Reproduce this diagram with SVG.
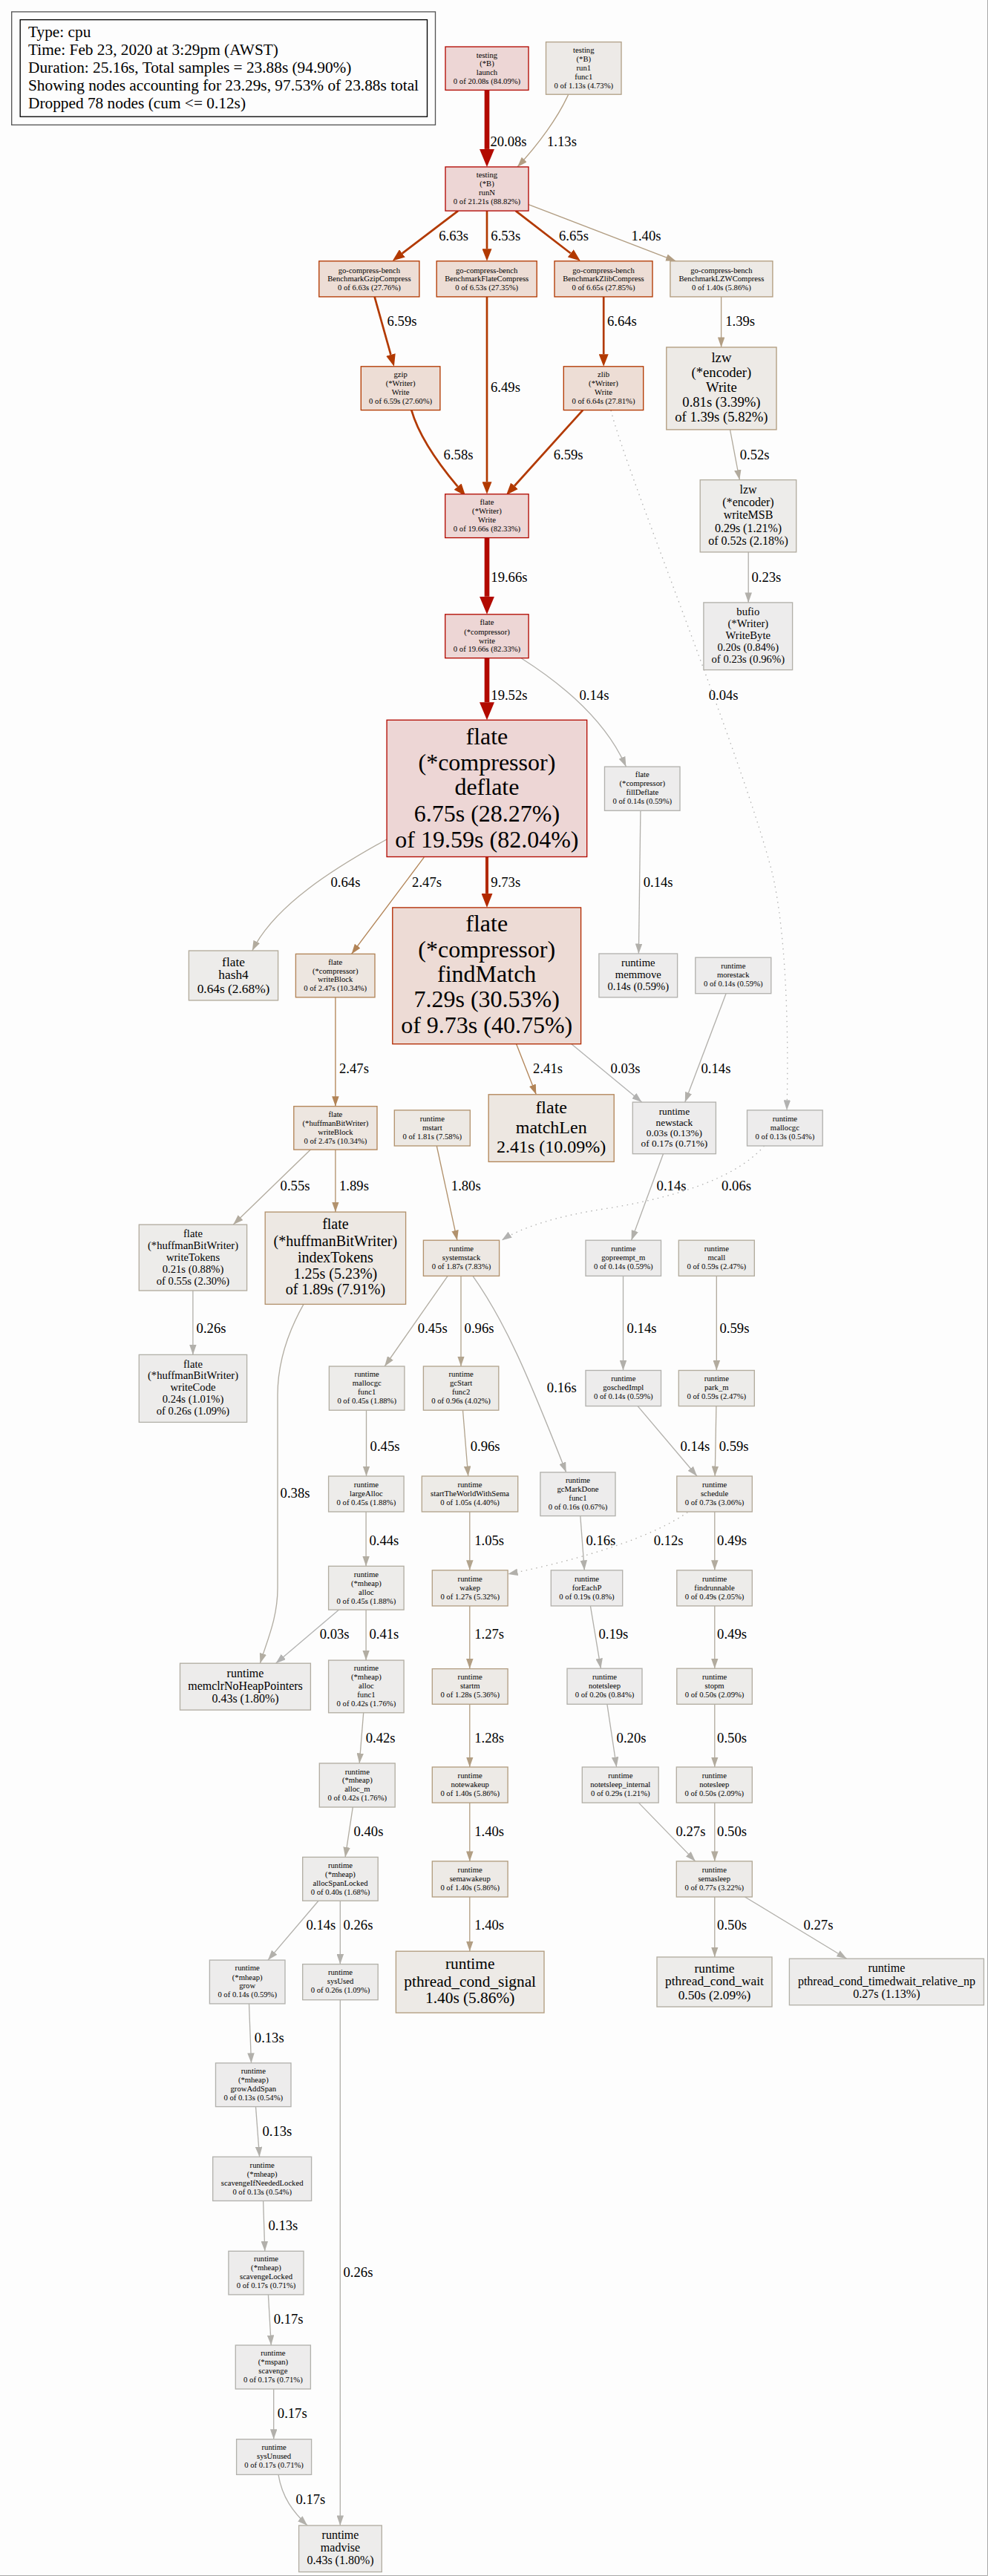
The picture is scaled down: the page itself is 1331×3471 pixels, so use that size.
<svg xmlns="http://www.w3.org/2000/svg" width="1331" height="3471" viewBox="0 0 1331 3471">
<style>
text { font-family: 'Liberation Serif', 'Times New Roman', serif; fill: #000; }
.node text { text-anchor: middle; }
.node rect { stroke-width: 1.33; }
.f8 { font-size: 10.67px; } .f10 { font-size: 13.33px; } .f11 { font-size: 14.67px; }
.f12 { font-size: 16px; } .f13 { font-size: 17.33px; } .f14 { font-size: 18.67px; }
.f15 { font-size: 20px; } .f16 { font-size: 21.33px; } .f18 { font-size: 24px; } .f24 { font-size: 32px; }
.lg { font-size: 21.33px; }
.elab { font-size: 18.67px; }
#edges path { fill: none; stroke-width: 1.33; }
#edges .r3 { stroke: #b20a00; stroke-width: 6.67; marker-end: url(#ar3); }
#edges .r2 { stroke: #b22a00; stroke-width: 4; marker-end: url(#ar2); }
#edges .r1 { stroke: #b23900; stroke-width: 2.67; marker-end: url(#ar1); }
#edges .g0 { stroke: #b2b2b1; marker-end: url(#ag0); }
#edges .g1 { stroke: #b2b0ab; marker-end: url(#ag1); }
#edges .g2 { stroke: #b2ada2; marker-end: url(#ag2); }
#edges .g3 { stroke: #b2ab9e; marker-end: url(#ag3); }
#edges .g4 { stroke: #b2a48e; marker-end: url(#ag4); }
#edges .g5 { stroke: #b29e83; marker-end: url(#ag5); }
#edges .g6 { stroke: #b2926d; marker-end: url(#ag6); }
#edges .g7 { stroke: #b28457; marker-end: url(#ag7); }
#edges .dot { stroke-dasharray: 1.5 5.5; }
</style>
<defs>
<marker id="ar3" markerUnits="userSpaceOnUse" viewBox="0 0 24 20" markerWidth="24" markerHeight="20" refX="0" refY="10" orient="auto"><path d="M0,0 L24,10 L0,20 z" fill="#b20a00"/></marker>
<marker id="ar2" markerUnits="userSpaceOnUse" viewBox="0 0 19 15" markerWidth="19" markerHeight="15" refX="0" refY="7.5" orient="auto"><path d="M0,0 L19,7.5 L0,15 z" fill="#b22a00"/></marker>
<marker id="ar1" markerUnits="userSpaceOnUse" viewBox="0 0 16.5 13" markerWidth="16.5" markerHeight="13" refX="0" refY="6.5" orient="auto"><path d="M0,0 L16.5,6.5 L0,13 z" fill="#b23900"/></marker>
<marker id="ag0" markerUnits="userSpaceOnUse" viewBox="0 0 13.5 9.5" markerWidth="13.5" markerHeight="9.5" refX="13.5" refY="4.75" orient="auto"><path d="M0,0 L13.5,4.75 L0,9.5 z" fill="#b2b2b1"/></marker>
<marker id="ag1" markerUnits="userSpaceOnUse" viewBox="0 0 13.5 9.5" markerWidth="13.5" markerHeight="9.5" refX="13.5" refY="4.75" orient="auto"><path d="M0,0 L13.5,4.75 L0,9.5 z" fill="#b2b0ab"/></marker>
<marker id="ag2" markerUnits="userSpaceOnUse" viewBox="0 0 13.5 9.5" markerWidth="13.5" markerHeight="9.5" refX="13.5" refY="4.75" orient="auto"><path d="M0,0 L13.5,4.75 L0,9.5 z" fill="#b2ada2"/></marker>
<marker id="ag3" markerUnits="userSpaceOnUse" viewBox="0 0 13.5 9.5" markerWidth="13.5" markerHeight="9.5" refX="13.5" refY="4.75" orient="auto"><path d="M0,0 L13.5,4.75 L0,9.5 z" fill="#b2ab9e"/></marker>
<marker id="ag4" markerUnits="userSpaceOnUse" viewBox="0 0 13.5 9.5" markerWidth="13.5" markerHeight="9.5" refX="13.5" refY="4.75" orient="auto"><path d="M0,0 L13.5,4.75 L0,9.5 z" fill="#b2a48e"/></marker>
<marker id="ag5" markerUnits="userSpaceOnUse" viewBox="0 0 13.5 9.5" markerWidth="13.5" markerHeight="9.5" refX="13.5" refY="4.75" orient="auto"><path d="M0,0 L13.5,4.75 L0,9.5 z" fill="#b29e83"/></marker>
<marker id="ag6" markerUnits="userSpaceOnUse" viewBox="0 0 13.5 9.5" markerWidth="13.5" markerHeight="9.5" refX="13.5" refY="4.75" orient="auto"><path d="M0,0 L13.5,4.75 L0,9.5 z" fill="#b2926d"/></marker>
<marker id="ag7" markerUnits="userSpaceOnUse" viewBox="0 0 13.5 9.5" markerWidth="13.5" markerHeight="9.5" refX="13.5" refY="4.75" orient="auto"><path d="M0,0 L13.5,4.75 L0,9.5 z" fill="#b28457"/></marker>
</defs>

<rect x="0" y="0" width="1331" height="3471" fill="#fdfdfd"/>
<path d="M1330.5,0 V3470.5 H0" fill="none" stroke="#a8a8a8" stroke-width="1"/>

<!-- profile legend -->
<g id="legend">
<rect x="15.7" y="15.9" width="570.8" height="152.4" fill="none" stroke="#555" stroke-width="1.33"/>
<rect x="27.2" y="26.6" width="548.3" height="130.6" fill="none" stroke="#000" stroke-width="1.33"/>
<text class="lg" x="38" y="49.5">Type: cpu</text>
<text class="lg" x="38" y="73.6">Time: Feb 23, 2020 at 3:29pm (AWST)</text>
<text class="lg" x="38" y="97.6">Duration: 25.16s, Total samples = 23.88s (94.90%)</text>
<text class="lg" x="38" y="121.7">Showing nodes accounting for 23.29s, 97.53% of 23.88s total</text>
<text class="lg" x="38" y="145.7">Dropped 78 nodes (cum &lt;= 0.12s)</text>
</g>

<!-- call edges -->
<g id="edges">
<path class="r3" d="M656,121.3 V200.9"/>
<path class="g5" d="M765.7,127.2 C752,158 725,195 697,224.9"/>
<path class="r1" d="M617.1,284.1 L541.9,341.4"/>
<path class="r1" d="M656,284.1 V335.3"/>
<path class="r1" d="M694.7,284.1 L768.75,341.3"/>
<path class="g5" d="M712.1,275.6 L910.5,351.8"/>
<path class="r1" d="M504.6,399.9 L526.45,477.9"/>
<path class="r1" d="M813.2,399.9 V477.3"/>
<path class="g5" d="M971.6,399.9 V467.9"/>
<path class="r1" d="M656,399.9 V649.3"/>
<path class="r1" d="M554.3,552.6 C565,590 595,630 616.6,655.7"/>
<path class="r1" d="M785.2,552.6 L693.05,654.75"/>
<path class="g0 dot" d="M823,553 C845,640 1000,1020 1040,1175 C1058,1250 1063,1380 1060,1495.9"/>
<path class="r3" d="M656,724.6 V803.8"/>
<path class="r3" d="M656,886.7 V946.2"/>
<path class="g1" d="M702.4,887 C770,930 820,980 843.4,1033.1"/>
<path class="g3" d="M983.5,578.9 L996.3,646.6"/>
<path class="g1" d="M1008.2,743.9 V811.9"/>
<path class="g3" d="M521,1131 C450,1170 370,1220 339.8,1281"/>
<path class="g7" d="M571.3,1155.2 L473.6,1285.4"/>
<path class="r2" d="M656,1154.5 V1203.9"/>
<path class="g1" d="M862.9,1092.3 L860.4,1285"/>
<path class="g7" d="M451.9,1343.8 V1490.7"/>
<path class="g7" d="M695.6,1406.7 L722.3,1474.8"/>
<path class="g0" d="M769.9,1406.7 L864.6,1485.1"/>
<path class="g1" d="M978.1,1338.7 L922.8,1485.1"/>
<path class="g3" d="M418.4,1549.1 L314.3,1650.1"/>
<path class="g6" d="M451.9,1549.1 V1633.1"/>
<path class="g6" d="M588.3,1544 L615.9,1671.2"/>
<path class="g1" d="M893.5,1554.7 L850.6,1671.2"/>
<path class="g0 dot" d="M1029.5,1544 C990,1590 900,1615 820,1628 C750,1638 700,1655 676,1671.2"/>
<path class="g1" d="M259.9,1739 V1825.4"/>
<path class="g2" d="M409,1757.4 C385,1800 374,1840 374,1880 L374,2140 C374,2180 360,2210 350.4,2241.2"/>
<path class="g2" d="M603.1,1719.3 L518.2,1841"/>
<path class="g4" d="M621,1719.3 V1841"/>
<path class="g1" d="M637,1719.3 C680,1780 710,1850 762.7,1983.8"/>
<path class="g1" d="M839.5,1719.3 V1846.5"/>
<path class="g3" d="M965.3,1719.3 V1846.5"/>
<path class="g2" d="M493.5,1900.2 V1989"/>
<path class="g4" d="M623.5,1900.2 L630.7,1989"/>
<path class="g1" d="M859.1,1894.6 L939,1989"/>
<path class="g3" d="M964.9,1894.6 L963.2,1989"/>
<path class="g2" d="M493.1,2037 V2110.3"/>
<path class="g4" d="M632.8,2037 V2115.8"/>
<path class="g1" d="M781.8,2042.6 L787.3,2115.8"/>
<path class="g1 dot" d="M926.2,2037.8 C880,2070 790,2100 684.1,2121"/>
<path class="g3" d="M962.8,2037 V2115.8"/>
<path class="g0" d="M456.6,2169.1 L371.6,2241.2"/>
<path class="g2" d="M493.1,2169.1 V2237.1"/>
<path class="g5" d="M632.8,2163.9 V2248.6"/>
<path class="g1" d="M795.4,2163.9 L809.4,2248.2"/>
<path class="g3" d="M962.8,2163.9 V2248.2"/>
<path class="g2" d="M489.7,2307.8 L484.2,2375.9"/>
<path class="g5" d="M632.8,2296.3 V2381"/>
<path class="g1" d="M817.9,2296.3 L830.6,2381"/>
<path class="g3" d="M962.8,2296.3 V2381"/>
<path class="g2" d="M475.3,2435 L465.1,2502.4"/>
<path class="g5" d="M632.8,2429.1 V2507.9"/>
<path class="g1" d="M860.4,2429.1 L936.8,2507.9"/>
<path class="g3" d="M962.8,2429.1 V2507.9"/>
<path class="g1" d="M429,2561.2 L361,2641.1"/>
<path class="g1" d="M458.3,2561.2 V2646.6"/>
<path class="g5" d="M632.8,2556 V2629.2"/>
<path class="g3" d="M962.8,2556 V2637"/>
<path class="g1" d="M1003.5,2556 L1140.7,2639.2"/>
<path class="g1" d="M335.5,2699.9 L338.5,2779.8"/>
<path class="g1" d="M344.5,2838.6 L349.6,2906.2"/>
<path class="g1" d="M458.3,2694.7 V3402.9"/>
<path class="g1" d="M354.6,2965.5 L356.8,3033.3"/>
<path class="g1" d="M361.4,3091.9 L365.3,3160"/>
<path class="g1" d="M368.7,3219 V3286.7"/>
<path class="g1" d="M375,3334.4 C380,3365 395,3385 414.1,3402.9"/>

<text class="elab" x="660.4" y="196.8">20.08s</text>
<text class="elab" x="737" y="196.8">1.13s</text>
<text class="elab" x="591.2" y="323.7">6.63s</text>
<text class="elab" x="661.3" y="323.7">6.53s</text>
<text class="elab" x="753" y="323.7">6.65s</text>
<text class="elab" x="850.6" y="323.7">1.40s</text>
<text class="elab" x="521.6" y="439.1">6.59s</text>
<text class="elab" x="817.9" y="439.1">6.64s</text>
<text class="elab" x="977.2" y="439.1">1.39s</text>
<text class="elab" x="661" y="527.9">6.49s</text>
<text class="elab" x="597.6" y="618.9">6.58s</text>
<text class="elab" x="745.7" y="618.9">6.59s</text>
<text class="elab" x="996.7" y="618.9">0.52s</text>
<text class="elab" x="661.3" y="783.5">19.66s</text>
<text class="elab" x="1012.4" y="783.5">0.23s</text>
<text class="elab" x="661.3" y="942.5">19.52s</text>
<text class="elab" x="780.5" y="942.5">0.14s</text>
<text class="elab" x="954.7" y="942.5">0.04s</text>
<text class="elab" x="445.5" y="1194.8">0.64s</text>
<text class="elab" x="555.1" y="1194.8">2.47s</text>
<text class="elab" x="661.3" y="1194.8">9.73s</text>
<text class="elab" x="866.7" y="1194.8">0.14s</text>
<text class="elab" x="457" y="1446.3">2.47s</text>
<text class="elab" x="718.1" y="1446.3">2.41s</text>
<text class="elab" x="822.6" y="1446.3">0.03s</text>
<text class="elab" x="944.5" y="1446.3">0.14s</text>
<text class="elab" x="377.6" y="1604.3">0.55s</text>
<text class="elab" x="457" y="1604.3">1.89s</text>
<text class="elab" x="607.8" y="1604.3">1.80s</text>
<text class="elab" x="884.6" y="1604.3">0.14s</text>
<text class="elab" x="972.1" y="1604.3">0.06s</text>
<text class="elab" x="264.6" y="1796.2">0.26s</text>
<text class="elab" x="562.8" y="1796.2">0.45s</text>
<text class="elab" x="625.6" y="1796.2">0.96s</text>
<text class="elab" x="844.6" y="1796.2">0.14s</text>
<text class="elab" x="969.5" y="1796.2">0.59s</text>
<text class="elab" x="736.8" y="1875.8">0.16s</text>
<text class="elab" x="498.6" y="1955.3">0.45s</text>
<text class="elab" x="633.7" y="1955.3">0.96s</text>
<text class="elab" x="916.4" y="1955.3">0.14s</text>
<text class="elab" x="968.7" y="1955.3">0.59s</text>
<text class="elab" x="377.6" y="2018.2">0.38s</text>
<text class="elab" x="497.4" y="2082.2">0.44s</text>
<text class="elab" x="639.2" y="2082.2">1.05s</text>
<text class="elab" x="789.4" y="2082.2">0.16s</text>
<text class="elab" x="880.7" y="2082.2">0.12s</text>
<text class="elab" x="966.1" y="2082.2">0.49s</text>
<text class="elab" x="430.7" y="2208.3">0.03s</text>
<text class="elab" x="497.4" y="2208.3">0.41s</text>
<text class="elab" x="639.2" y="2208.3">1.27s</text>
<text class="elab" x="806.4" y="2208.3">0.19s</text>
<text class="elab" x="966.1" y="2208.3">0.49s</text>
<text class="elab" x="492.7" y="2347.8">0.42s</text>
<text class="elab" x="639.2" y="2347.8">1.28s</text>
<text class="elab" x="830.6" y="2347.8">0.20s</text>
<text class="elab" x="966.1" y="2347.8">0.50s</text>
<text class="elab" x="476.5" y="2474.3">0.40s</text>
<text class="elab" x="639.2" y="2474.3">1.40s</text>
<text class="elab" x="910.5" y="2474.3">0.27s</text>
<text class="elab" x="966.1" y="2474.3">0.50s</text>
<text class="elab" x="412.4" y="2600">0.14s</text>
<text class="elab" x="462.5" y="2600">0.26s</text>
<text class="elab" x="639.2" y="2600">1.40s</text>
<text class="elab" x="966.1" y="2600">0.50s</text>
<text class="elab" x="1082.5" y="2600">0.27s</text>
<text class="elab" x="342.8" y="2751.7">0.13s</text>
<text class="elab" x="353.4" y="2878.2">0.13s</text>
<text class="elab" x="361.4" y="3004.6">0.13s</text>
<text class="elab" x="462.5" y="3068.3">0.26s</text>
<text class="elab" x="368.7" y="3131.3">0.17s</text>
<text class="elab" x="373.8" y="3257.7">0.17s</text>
<text class="elab" x="398.4" y="3374.3">0.17s</text>
</g>

<!-- function nodes -->
<g id="n_launch" class="node"><rect x="600" y="63" width="112" height="58.4" fill="#edd6d5" stroke="#b20900"/>
<text class="f8" x="656" y="77.5">testing</text><text class="f8" x="656" y="89.3">(*B)</text><text class="f8" x="656" y="101.2">launch</text><text class="f8" x="656" y="113">0 of 20.08s (84.09%)</text></g>
<g id="n_run1" class="node"><rect x="735.5" y="56.6" width="101.5" height="70.6" fill="#edeae7" stroke="#b2a188"/>
<text class="f8" x="786.3" y="71.2">testing</text><text class="f8" x="786.3" y="83">(*B)</text><text class="f8" x="786.3" y="95.2">run1</text><text class="f8" x="786.3" y="107.1">func1</text><text class="f8" x="786.3" y="118.9">0 of 1.13s (4.73%)</text></g>
<g id="n_runN" class="node"><rect x="600" y="224.9" width="112" height="59.2" fill="#edd6d5" stroke="#b20600"/>
<text class="f8" x="656" y="239.1">testing</text><text class="f8" x="656" y="251">(*B)</text><text class="f8" x="656" y="262.8">runN</text><text class="f8" x="656" y="274.6">0 of 21.21s (88.82%)</text></g>
<g id="n_gzipb" class="node"><rect x="429.8" y="351.8" width="135.1" height="48.1" fill="#edddd5" stroke="#b23800"/>
<text class="f8" x="497.4" y="367.5">go-compress-bench</text><text class="f8" x="497.4" y="379.3">BenchmarkGzipCompress</text><text class="f8" x="497.4" y="391.2">0 of 6.63s (27.76%)</text></g>
<g id="n_flateb" class="node"><rect x="588.2" y="351.8" width="135" height="48.1" fill="#edddd5" stroke="#b23900"/>
<text class="f8" x="655.7" y="367.5">go-compress-bench</text><text class="f8" x="655.7" y="379.3">BenchmarkFlateCompress</text><text class="f8" x="655.7" y="391.2">0 of 6.53s (27.35%)</text></g>
<g id="n_zlibb" class="node"><rect x="747" y="351.8" width="132" height="48.1" fill="#edddd5" stroke="#b23800"/>
<text class="f8" x="813" y="367.5">go-compress-bench</text><text class="f8" x="813" y="379.3">BenchmarkZlibCompress</text><text class="f8" x="813" y="391.2">0 of 6.65s (27.85%)</text></g>
<g id="n_lzwb" class="node"><rect x="902.9" y="351.8" width="138" height="48.1" fill="#edeae6" stroke="#b29c7e"/>
<text class="f8" x="971.9" y="367.5">go-compress-bench</text><text class="f8" x="971.9" y="379.3">BenchmarkLZWCompress</text><text class="f8" x="971.9" y="391.2">0 of 1.40s (5.86%)</text></g>
<g id="n_gzipw" class="node"><rect x="486.3" y="493.8" width="106.6" height="58.8" fill="#edddd5" stroke="#b23900"/>
<text class="f8" x="539.6" y="508.4">gzip</text><text class="f8" x="539.6" y="520.3">(*Writer)</text><text class="f8" x="539.6" y="532.1">Write</text><text class="f8" x="539.6" y="543.9">0 of 6.59s (27.60%)</text></g>
<g id="n_zlibw" class="node"><rect x="759.3" y="493.8" width="107.4" height="58.8" fill="#edddd5" stroke="#b23800"/>
<text class="f8" x="813" y="508.4">zlib</text><text class="f8" x="813" y="520.3">(*Writer)</text><text class="f8" x="813" y="532.1">Write</text><text class="f8" x="813" y="543.9">0 of 6.64s (27.81%)</text></g>
<g id="n_lzww" class="node"><rect x="897.8" y="467.9" width="148.2" height="111" fill="#edeae6" stroke="#b29c7e"/>
<text class="f14" x="971.9" y="488">lzw</text><text class="f14" x="971.9" y="508.3">(*encoder)</text><text class="f14" x="971.9" y="528.3">Write</text><text class="f14" x="971.9" y="548.3">0.81s (3.39%)</text><text class="f14" x="971.9" y="568.3">of 1.39s (5.82%)</text></g>
<g id="n_flatew" class="node"><rect x="599.7" y="665.8" width="112.4" height="58.8" fill="#edd6d5" stroke="#b20a00"/>
<text class="f8" x="656" y="680">flate</text><text class="f8" x="656" y="692.3">(*Writer)</text><text class="f8" x="656" y="704.1">Write</text><text class="f8" x="656" y="715.9">0 of 19.66s (82.33%)</text></g>
<g id="n_cwrite" class="node"><rect x="599.7" y="827.8" width="112.4" height="58.9" fill="#edd6d5" stroke="#b20a00"/>
<text class="f8" x="656" y="842.4">flate</text><text class="f8" x="656" y="854.6">(*compressor)</text><text class="f8" x="656" y="866.5">write</text><text class="f8" x="656" y="878.3">0 of 19.66s (82.33%)</text></g>
<g id="n_writeMSB" class="node"><rect x="943.2" y="646.6" width="129.5" height="97.3" fill="#edecea" stroke="#b2ac9f"/>
<text class="f12" x="1008" y="664.8">lzw</text><text class="f12" x="1008" y="682.2">(*encoder)</text><text class="f12" x="1008" y="699.2">writeMSB</text><text class="f12" x="1008" y="716.6">0.29s (1.21%)</text><text class="f12" x="1008" y="734">of 0.52s (2.18%)</text></g>
<g id="n_writeByte" class="node"><rect x="947.9" y="811.9" width="119.7" height="90.7" fill="#edecec" stroke="#b2b0a9"/>
<text class="f11" x="1007.8" y="829.3">bufio</text><text class="f11" x="1007.8" y="845.2">(*Writer)</text><text class="f11" x="1007.8" y="861.1">WriteByte</text><text class="f11" x="1007.8" y="877">0.20s (0.84%)</text><text class="f11" x="1007.8" y="892.9">of 0.23s (0.96%)</text></g>
<g id="n_deflate" class="node"><rect x="521.1" y="970.2" width="269.6" height="184.3" fill="#edd6d5" stroke="#b20a00"/>
<text class="f24" x="655.9" y="1002.9">flate</text><text class="f24" x="655.9" y="1038.1">(*compressor)</text><text class="f24" x="655.9" y="1071.4">deflate</text><text class="f24" x="655.9" y="1106.5">6.75s (28.27%)</text><text class="f24" x="655.9" y="1141.7">of 19.59s (82.04%)</text></g>
<g id="n_fillDeflate" class="node"><rect x="814.5" y="1033.1" width="101.5" height="59.2" fill="#edecec" stroke="#b2b1ad"/>
<text class="f8" x="865.3" y="1047">flate</text><text class="f8" x="865.3" y="1059.2">(*compressor)</text><text class="f8" x="865.3" y="1071">fillDeflate</text><text class="f8" x="865.3" y="1082.9">0 of 0.14s (0.59%)</text></g>
<g id="n_hash4" class="node"><rect x="254.4" y="1281" width="120.2" height="66.9" fill="#edecea" stroke="#b2aa9a"/>
<text class="f13" x="314.5" y="1301.5">flate</text><text class="f13" x="314.5" y="1319.2">hash4</text><text class="f13" x="314.5" y="1338.1">0.64s (2.68%)</text></g>
<g id="n_cwriteBlock" class="node"><rect x="398.4" y="1285.4" width="106.6" height="58.4" fill="#ede6e0" stroke="#b28356"/>
<text class="f8" x="451.7" y="1299.6">flate</text><text class="f8" x="451.7" y="1311.5">(*compressor)</text><text class="f8" x="451.7" y="1323.3">writeBlock</text><text class="f8" x="451.7" y="1335.1">0 of 2.47s (10.34%)</text></g>
<g id="n_findMatch" class="node"><rect x="528.8" y="1222.9" width="253.8" height="183.8" fill="#eddbd5" stroke="#b22a00"/>
<text class="f24" x="655.7" y="1254.8">flate</text><text class="f24" x="655.7" y="1289.6">(*compressor)</text><text class="f24" x="655.7" y="1323.3">findMatch</text><text class="f24" x="655.7" y="1357.3">7.29s (30.53%)</text><text class="f24" x="655.7" y="1391.7">of 9.73s (40.75%)</text></g>
<g id="n_memmove" class="node"><rect x="806.9" y="1285" width="105.7" height="58.8" fill="#edecec" stroke="#b2b1ad"/>
<text class="f11" x="859.8" y="1302.4">runtime</text><text class="f11" x="859.8" y="1318.3">memmove</text><text class="f11" x="859.8" y="1334.2">0.14s (0.59%)</text></g>
<g id="n_morestack" class="node"><rect x="936.8" y="1290.2" width="102" height="48.5" fill="#edecec" stroke="#b2b1ad"/>
<text class="f8" x="987.8" y="1305.2">runtime</text><text class="f8" x="987.8" y="1317">morestack</text><text class="f8" x="987.8" y="1328.8">0 of 0.14s (0.59%)</text></g>
<g id="n_hwriteBlock" class="node"><rect x="395.8" y="1490.7" width="112.2" height="58.4" fill="#ede6e0" stroke="#b28356"/>
<text class="f8" x="451.9" y="1505.3">flate</text><text class="f8" x="451.9" y="1517.1">(*huffmanBitWriter)</text><text class="f8" x="451.9" y="1529.3">writeBlock</text><text class="f8" x="451.9" y="1541.2">0 of 2.47s (10.34%)</text></g>
<g id="n_mstart" class="node"><rect x="531.3" y="1495.9" width="102" height="48.1" fill="#ede9e4" stroke="#b2936e"/>
<text class="f8" x="582.3" y="1511.2">runtime</text><text class="f8" x="582.3" y="1523">mstart</text><text class="f8" x="582.3" y="1534.9">0 of 1.81s (7.58%)</text></g>
<g id="n_matchLen" class="node"><rect x="658.2" y="1474.8" width="169" height="90.6" fill="#ede7e1" stroke="#b28558"/>
<text class="f18" x="742.7" y="1499.8">flate</text><text class="f18" x="742.7" y="1526.8">matchLen</text><text class="f18" x="742.7" y="1553.4">2.41s (10.09%)</text></g>
<g id="n_newstack" class="node"><rect x="852.3" y="1485.1" width="112.1" height="69.6" fill="#edecec" stroke="#b2b1ac"/>
<text class="f10" x="908.4" y="1501.7">runtime</text><text class="f10" x="908.4" y="1516.5">newstack</text><text class="f10" x="908.4" y="1531.3">0.03s (0.13%)</text><text class="f10" x="908.4" y="1545.4">of 0.17s (0.71%)</text></g>
<g id="n_mallocgc" class="node"><rect x="1006.5" y="1495.9" width="101.7" height="48.1" fill="#edecec" stroke="#b2b1ad"/>
<text class="f8" x="1057.4" y="1511.2">runtime</text><text class="f8" x="1057.4" y="1523">mallocgc</text><text class="f8" x="1057.4" y="1534.9">0 of 0.13s (0.54%)</text></g>
<g id="n_writeTokens" class="node"><rect x="187.3" y="1650.1" width="145.3" height="88.9" fill="#edecea" stroke="#b2ab9e"/>
<text class="f11" x="260" y="1667.1">flate</text><text class="f11" x="260" y="1683">(*huffmanBitWriter)</text><text class="f11" x="260" y="1699.3">writeTokens</text><text class="f11" x="260" y="1715.2">0.21s (0.88%)</text><text class="f11" x="260" y="1730.8">of 0.55s (2.30%)</text></g>
<g id="n_indexTokens" class="node"><rect x="357.2" y="1633.1" width="189.4" height="124.3" fill="#ede8e3" stroke="#b2916b"/>
<text class="f15" x="451.9" y="1655.6">flate</text><text class="f15" x="451.9" y="1678.6">(*huffmanBitWriter)</text><text class="f15" x="451.9" y="1700.7">indexTokens</text><text class="f15" x="451.9" y="1722.9">1.25s (5.23%)</text><text class="f15" x="451.9" y="1744.2">of 1.89s (7.91%)</text></g>
<g id="n_systemstack" class="node"><rect x="570.4" y="1671.2" width="102.2" height="48.1" fill="#ede8e3" stroke="#b2916c"/>
<text class="f8" x="621.5" y="1686.2">runtime</text><text class="f8" x="621.5" y="1698.4">systemstack</text><text class="f8" x="621.5" y="1710.2">0 of 1.87s (7.83%)</text></g>
<g id="n_gopreempt" class="node"><rect x="789" y="1671.2" width="101.5" height="48.1" fill="#edecec" stroke="#b2b1ad"/>
<text class="f8" x="839.8" y="1686.2">runtime</text><text class="f8" x="839.8" y="1698.4">gopreempt_m</text><text class="f8" x="839.8" y="1710.2">0 of 0.14s (0.59%)</text></g>
<g id="n_mcall" class="node"><rect x="914.3" y="1671.2" width="102" height="48.1" fill="#edecea" stroke="#b2ab9c"/>
<text class="f8" x="965.3" y="1686.2">runtime</text><text class="f8" x="965.3" y="1698.4">mcall</text><text class="f8" x="965.3" y="1710.2">0 of 0.59s (2.47%)</text></g>
<g id="n_writeCode" class="node"><rect x="187.3" y="1825.4" width="145.3" height="91" fill="#edeceb" stroke="#b2b0a8"/>
<text class="f11" x="260" y="1842.5">flate</text><text class="f11" x="260" y="1858.4">(*huffmanBitWriter)</text><text class="f11" x="260" y="1874.3">writeCode</text><text class="f11" x="260" y="1890.2">0.24s (1.01%)</text><text class="f11" x="260" y="1906.1">of 0.26s (1.09%)</text></g>
<g id="n_mallocgcFunc1" class="node"><rect x="443.4" y="1841" width="101.5" height="59.2" fill="#edecea" stroke="#b2ada1"/>
<text class="f8" x="494.2" y="1855.2">runtime</text><text class="f8" x="494.2" y="1867">mallocgc</text><text class="f8" x="494.2" y="1879.3">func1</text><text class="f8" x="494.2" y="1890.7">0 of 0.45s (1.88%)</text></g>
<g id="n_gcStart" class="node"><rect x="570.4" y="1841" width="101.4" height="59.2" fill="#edebe8" stroke="#b2a48e"/>
<text class="f8" x="621.1" y="1855.2">runtime</text><text class="f8" x="621.1" y="1867">gcStart</text><text class="f8" x="621.1" y="1879.3">func2</text><text class="f8" x="621.1" y="1890.7">0 of 0.96s (4.02%)</text></g>
<g id="n_goschedImpl" class="node"><rect x="789" y="1846.5" width="101.5" height="48.1" fill="#edecec" stroke="#b2b1ad"/>
<text class="f8" x="839.8" y="1861.1">runtime</text><text class="f8" x="839.8" y="1873">goschedImpl</text><text class="f8" x="839.8" y="1884.8">0 of 0.14s (0.59%)</text></g>
<g id="n_park_m" class="node"><rect x="914.3" y="1846.5" width="102" height="48.1" fill="#edecea" stroke="#b2ab9c"/>
<text class="f8" x="965.3" y="1861.1">runtime</text><text class="f8" x="965.3" y="1873">park_m</text><text class="f8" x="965.3" y="1884.8">0 of 0.59s (2.47%)</text></g>
<g id="n_largeAlloc" class="node"><rect x="442.6" y="1989" width="101.5" height="48" fill="#edecea" stroke="#b2ada1"/>
<text class="f8" x="493.4" y="2004.3">runtime</text><text class="f8" x="493.4" y="2016.1">largeAlloc</text><text class="f8" x="493.4" y="2028">0 of 0.45s (1.88%)</text></g>
<g id="n_startTheWorld" class="node"><rect x="568.3" y="1989" width="129.4" height="48" fill="#edebe7" stroke="#b2a38b"/>
<text class="f8" x="633" y="2004.3">runtime</text><text class="f8" x="633" y="2016.1">startTheWorldWithSema</text><text class="f8" x="633" y="2028">0 of 1.05s (4.40%)</text></g>
<g id="n_gcMarkDone" class="node"><rect x="727.9" y="1983.8" width="101.1" height="58.8" fill="#edecec" stroke="#b2b1ac"/>
<text class="f8" x="778.5" y="1998">runtime</text><text class="f8" x="778.5" y="2009.8">gcMarkDone</text><text class="f8" x="778.5" y="2022">func1</text><text class="f8" x="778.5" y="2033.9">0 of 0.16s (0.67%)</text></g>
<g id="n_schedule" class="node"><rect x="911.8" y="1989" width="101.5" height="48" fill="#edebe9" stroke="#b2a897"/>
<text class="f8" x="962.6" y="2004.3">runtime</text><text class="f8" x="962.6" y="2016.1">schedule</text><text class="f8" x="962.6" y="2028">0 of 0.73s (3.06%)</text></g>
<g id="n_mheapAlloc" class="node"><rect x="442.6" y="2110.3" width="101.5" height="58.8" fill="#edecea" stroke="#b2ada1"/>
<text class="f8" x="493.4" y="2125.2">runtime</text><text class="f8" x="493.4" y="2137.1">(*mheap)</text><text class="f8" x="493.4" y="2149.3">alloc</text><text class="f8" x="493.4" y="2161.1">0 of 0.45s (1.88%)</text></g>
<g id="n_wakep" class="node"><rect x="582.3" y="2115.8" width="101.8" height="48.1" fill="#edeae6" stroke="#b29e83"/>
<text class="f8" x="633.2" y="2131.2">runtime</text><text class="f8" x="633.2" y="2143">wakep</text><text class="f8" x="633.2" y="2154.8">0 of 1.27s (5.32%)</text></g>
<g id="n_forEachP" class="node"><rect x="742.3" y="2115.8" width="96.4" height="48.1" fill="#edecec" stroke="#b2b0ab"/>
<text class="f8" x="790.5" y="2131.2">runtime</text><text class="f8" x="790.5" y="2143">forEachP</text><text class="f8" x="790.5" y="2154.8">0 of 0.19s (0.8%)</text></g>
<g id="n_findrunnable" class="node"><rect x="911.8" y="2115.8" width="101.5" height="48.1" fill="#edecea" stroke="#b2aca0"/>
<text class="f8" x="962.6" y="2131.2">runtime</text><text class="f8" x="962.6" y="2143">findrunnable</text><text class="f8" x="962.6" y="2154.8">0 of 0.49s (2.05%)</text></g>
<g id="n_memclr" class="node"><rect x="242.5" y="2241.2" width="175.9" height="62.9" fill="#edeceb" stroke="#b2ada2"/>
<text class="f12" x="330.5" y="2259.5">runtime</text><text class="f12" x="330.5" y="2277.2">memclrNoHeapPointers</text><text class="f12" x="330.5" y="2294.2">0.43s (1.80%)</text></g>
<g id="n_mheapAllocFunc1" class="node"><rect x="442.6" y="2237.1" width="101.5" height="70.7" fill="#edeceb" stroke="#b2ada2"/>
<text class="f8" x="493.4" y="2251.4">runtime</text><text class="f8" x="493.4" y="2263.2">(*mheap)</text><text class="f8" x="493.4" y="2275">alloc</text><text class="f8" x="493.4" y="2286.9">func1</text><text class="f8" x="493.4" y="2298.7">0 of 0.42s (1.76%)</text></g>
<g id="n_startm" class="node"><rect x="582.3" y="2248.6" width="101.8" height="47.7" fill="#edeae6" stroke="#b29e83"/>
<text class="f8" x="633.2" y="2263.2">runtime</text><text class="f8" x="633.2" y="2275">startm</text><text class="f8" x="633.2" y="2286.9">0 of 1.28s (5.36%)</text></g>
<g id="n_notetsleep" class="node"><rect x="764" y="2248.2" width="101" height="48.1" fill="#edecec" stroke="#b2b0aa"/>
<text class="f8" x="814.5" y="2263.2">runtime</text><text class="f8" x="814.5" y="2275">notetsleep</text><text class="f8" x="814.5" y="2286.9">0 of 0.20s (0.84%)</text></g>
<g id="n_stopm" class="node"><rect x="911.8" y="2248.2" width="101.5" height="48.1" fill="#edecea" stroke="#b2ac9f"/>
<text class="f8" x="962.6" y="2263.2">runtime</text><text class="f8" x="962.6" y="2275">stopm</text><text class="f8" x="962.6" y="2286.9">0 of 0.50s (2.09%)</text></g>
<g id="n_alloc_m" class="node"><rect x="430.3" y="2375.9" width="101.9" height="59.1" fill="#edeceb" stroke="#b2ada2"/>
<text class="f8" x="481.3" y="2390.5">runtime</text><text class="f8" x="481.3" y="2402.3">(*mheap)</text><text class="f8" x="481.3" y="2414.1">alloc_m</text><text class="f8" x="481.3" y="2426">0 of 0.42s (1.76%)</text></g>
<g id="n_notewakeup" class="node"><rect x="582.3" y="2381" width="101.8" height="48.1" fill="#edeae6" stroke="#b29c7e"/>
<text class="f8" x="633.2" y="2396.4">runtime</text><text class="f8" x="633.2" y="2408.2">notewakeup</text><text class="f8" x="633.2" y="2420">0 of 1.40s (5.86%)</text></g>
<g id="n_notetsleepInternal" class="node"><rect x="784.3" y="2381" width="102.9" height="48.1" fill="#edeceb" stroke="#b2afa7"/>
<text class="f8" x="835.8" y="2396.4">runtime</text><text class="f8" x="835.8" y="2408.2">notetsleep_internal</text><text class="f8" x="835.8" y="2420">0 of 0.29s (1.21%)</text></g>
<g id="n_notesleep" class="node"><rect x="911.3" y="2381" width="102" height="48.1" fill="#edecea" stroke="#b2ac9f"/>
<text class="f8" x="962.3" y="2396.4">runtime</text><text class="f8" x="962.3" y="2408.2">notesleep</text><text class="f8" x="962.3" y="2420">0 of 0.50s (2.09%)</text></g>
<g id="n_allocSpanLocked" class="node"><rect x="407.7" y="2502.4" width="101.5" height="58.8" fill="#edeceb" stroke="#b2ada3"/>
<text class="f8" x="458.5" y="2517.3">runtime</text><text class="f8" x="458.5" y="2529.2">(*mheap)</text><text class="f8" x="458.5" y="2541">allocSpanLocked</text><text class="f8" x="458.5" y="2552.8">0 of 0.40s (1.68%)</text></g>
<g id="n_semawakeup" class="node"><rect x="582.3" y="2507.9" width="101.8" height="48.1" fill="#edeae6" stroke="#b29c7e"/>
<text class="f8" x="633.2" y="2523.2">runtime</text><text class="f8" x="633.2" y="2535.1">semawakeup</text><text class="f8" x="633.2" y="2546.9">0 of 1.40s (5.86%)</text></g>
<g id="n_semasleep" class="node"><rect x="911.3" y="2507.9" width="102" height="48.1" fill="#edebe9" stroke="#b2a895"/>
<text class="f8" x="962.3" y="2523.2">runtime</text><text class="f8" x="962.3" y="2535.1">semasleep</text><text class="f8" x="962.3" y="2546.9">0 of 0.77s (3.22%)</text></g>
<g id="n_grow" class="node"><rect x="282.4" y="2641.1" width="101.6" height="58.8" fill="#edecec" stroke="#b2b1ad"/>
<text class="f8" x="333.2" y="2655.3">runtime</text><text class="f8" x="333.2" y="2667.5">(*mheap)</text><text class="f8" x="333.2" y="2679.3">grow</text><text class="f8" x="333.2" y="2690.8">0 of 0.14s (0.59%)</text></g>
<g id="n_sysUsed" class="node"><rect x="407.7" y="2646.6" width="101.5" height="48.1" fill="#edeceb" stroke="#b2b0a8"/>
<text class="f8" x="458.5" y="2661.2">runtime</text><text class="f8" x="458.5" y="2673.1">sysUsed</text><text class="f8" x="458.5" y="2684.9">0 of 0.26s (1.09%)</text></g>
<g id="n_condSignal" class="node"><rect x="533.4" y="2629.2" width="199.6" height="82.9" fill="#edeae6" stroke="#b29c7e"/>
<text class="f16" x="633.2" y="2652.5">runtime</text><text class="f16" x="633.2" y="2676.6">pthread_cond_signal</text><text class="f16" x="633.2" y="2698.7">1.40s (5.86%)</text></g>
<g id="n_condWait" class="node"><rect x="885" y="2637" width="155" height="67" fill="#edecea" stroke="#b2ac9f"/>
<text class="f13" x="962.5" y="2657.5">runtime</text><text class="f13" x="962.5" y="2675.3">pthread_cond_wait</text><text class="f13" x="962.5" y="2693.7">0.50s (2.09%)</text></g>
<g id="n_condTimedwait" class="node"><rect x="1063.4" y="2639.2" width="262" height="62.5" fill="#edeceb" stroke="#b2b0a8"/>
<text class="f12" x="1194.4" y="2657.1">runtime</text><text class="f12" x="1194.4" y="2674.9">pthread_cond_timedwait_relative_np</text><text class="f12" x="1194.4" y="2692.3">0.27s (1.13%)</text></g>
<g id="n_growAddSpan" class="node"><rect x="290.5" y="2779.8" width="101.5" height="58.8" fill="#edecec" stroke="#b2b1ad"/>
<text class="f8" x="341.3" y="2794.4">runtime</text><text class="f8" x="341.3" y="2806.2">(*mheap)</text><text class="f8" x="341.3" y="2818.1">growAddSpan</text><text class="f8" x="341.3" y="2829.9">0 of 0.13s (0.54%)</text></g>
<g id="n_scavengeIfNeeded" class="node"><rect x="286.7" y="2906.2" width="132.9" height="59.3" fill="#edecec" stroke="#b2b1ad"/>
<text class="f8" x="353.2" y="2921.3">runtime</text><text class="f8" x="353.2" y="2933.4">(*mheap)</text><text class="f8" x="353.2" y="2945">scavengeIfNeededLocked</text><text class="f8" x="353.2" y="2957">0 of 0.13s (0.54%)</text></g>
<g id="n_scavengeLocked" class="node"><rect x="307.9" y="3033.3" width="101.1" height="58.6" fill="#edecec" stroke="#b2b1ac"/>
<text class="f8" x="358.5" y="3047.3">runtime</text><text class="f8" x="358.5" y="3059.4">(*mheap)</text><text class="f8" x="358.5" y="3071">scavengeLocked</text><text class="f8" x="358.5" y="3082.7">0 of 0.17s (0.71%)</text></g>
<g id="n_mspanScavenge" class="node"><rect x="317.3" y="3160" width="101.1" height="59" fill="#edecec" stroke="#b2b1ac"/>
<text class="f8" x="367.9" y="3174.1">runtime</text><text class="f8" x="367.9" y="3186.1">(*mspan)</text><text class="f8" x="367.9" y="3198.1">scavenge</text><text class="f8" x="367.9" y="3209.8">0 of 0.17s (0.71%)</text></g>
<g id="n_sysUnused" class="node"><rect x="318.6" y="3286.7" width="101" height="47.7" fill="#edecec" stroke="#b2b1ac"/>
<text class="f8" x="369.1" y="3301.2">runtime</text><text class="f8" x="369.1" y="3312.8">sysUnused</text><text class="f8" x="369.1" y="3324.8">0 of 0.17s (0.71%)</text></g>
<g id="n_madvise" class="node"><rect x="402.6" y="3402.9" width="111.7" height="62.6" fill="#edeceb" stroke="#b2ada2"/>
<text class="f12" x="458.5" y="3421.3">runtime</text><text class="f12" x="458.5" y="3438.1">madvise</text><text class="f12" x="458.5" y="3454.5">0.43s (1.80%)</text></g>
</svg>
